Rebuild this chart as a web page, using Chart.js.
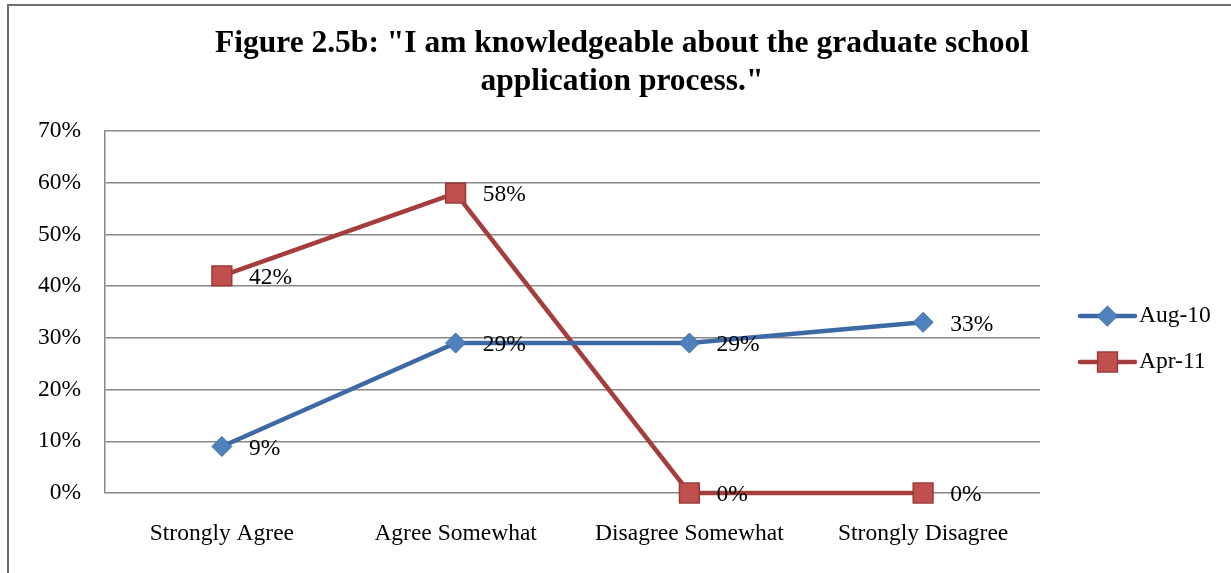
<!DOCTYPE html>
<html>
<head>
<meta charset="utf-8">
<script src="https://cdn.jsdelivr.net/npm/chart.js@4/dist/chart.umd.min.js"></script>
<style>
  html, body { margin:0; padding:0; background:#fff; overflow:hidden; }
  #wrap { position:absolute; left:0; top:0; width:1231px; height:573px; }
  #frame { position:absolute; left:7px; top:4px; width:1300px; height:700px; border-left:2px solid #707070; border-top:2px solid #707070; pointer-events:none; }
</style>
</head>
<body>
<div id="wrap">
  <canvas id="c" width="1231" height="573"></canvas>
  <div id="frame"></div>
</div>
<script>
const titleLines = ['Figure 2.5b: "I am knowledgeable about the graduate school', 'application process."'];
const categories = ['Strongly Agree', 'Agree Somewhat', 'Disagree Somewhat', 'Strongly Disagree'];
const seriesNames = ['Aug-10', 'Apr-11'];
const aug10 = [9, 29, 29, 33];
const apr11 = [42, 58, 0, 0];
const yTicks = [0, 10, 20, 30, 40, 50, 60, 70];

const FONT = '"Liberation Serif", "Times New Roman", serif';
const FS = 23.5;

const titlePlugin = {
  id: 'customTitle',
  afterDraw(chart) {
    const ctx = chart.ctx;
    ctx.save();
    ctx.fillStyle = '#000';
    ctx.font = 'bold 31.5px ' + FONT;
    ctx.textAlign = 'center';
    ctx.textBaseline = 'middle';
    titleLines.forEach((t, i) => ctx.fillText(t, 622, 44 + i * 38));
    ctx.restore();
  }
};

const labelPlugin = {
  id: 'valueLabels',
  afterDatasetsDraw(chart) {
    const ctx = chart.ctx;
    ctx.save();
    ctx.fillStyle = '#000';
    ctx.font = FS + 'px ' + FONT;
    ctx.textAlign = 'left';
    ctx.textBaseline = 'middle';
    chart.data.datasets.forEach((ds, di) => {
      const meta = chart.getDatasetMeta(di);
      meta.data.forEach((pt, i) => {
        ctx.fillText(ds.data[i] + '%', pt.x + 27, pt.y + 2);
      });
    });
    ctx.restore();
  }
};

const legendPlugin = {
  id: 'customLegend',
  afterDraw(chart) {
    const ctx = chart.ctx;
    const ca = chart.chartArea;
    ctx.save();
    chart.data.datasets.forEach((ds, i) => {
      const y = ca.top + 185 + i * 46;
      const x0 = ca.right + 40, x1 = ca.right + 95, xm = (x0 + x1) / 2;
      ctx.strokeStyle = ds.borderColor;
      ctx.lineWidth = ds.borderWidth;
      ctx.lineCap = 'round';
      ctx.beginPath(); ctx.moveTo(x0, y); ctx.lineTo(x1, y); ctx.stroke();
      ctx.fillStyle = ds.pointBackgroundColor;
      ctx.strokeStyle = ds.pointBorderColor;
      ctx.lineWidth = ds.pointBorderWidth;
      ctx.beginPath();
      if (ds.pointStyle === 'rectRot') {
        const r = ds.pointRadius;
        ctx.moveTo(xm - r, y); ctx.lineTo(xm, y - r); ctx.lineTo(xm + r, y); ctx.lineTo(xm, y + r); ctx.closePath();
      } else {
        const s = ds.pointRadius * Math.SQRT1_2;
        ctx.rect(xm - s, y - s, 2 * s, 2 * s);
      }
      ctx.fill(); ctx.stroke();
      ctx.fillStyle = '#000';
      ctx.font = FS + 'px ' + FONT;
      ctx.textAlign = 'left';
      ctx.textBaseline = 'middle';
      ctx.fillText(ds.label, x1 + 4, y);
    });
    ctx.restore();
  }
};

new Chart(document.getElementById('c'), {
  type: 'line',
  data: {
    labels: categories,
    datasets: [
      {
        label: seriesNames[0], data: aug10, clip: false,
        borderColor: '#3d69a4', borderWidth: 4.5,
        pointStyle: 'rectRot', pointRadius: 10, pointHoverRadius: 10,
        pointBackgroundColor: '#4f81bd', pointBorderColor: '#3e6ca6', pointBorderWidth: 1,
        tension: 0
      },
      {
        label: seriesNames[1], data: apr11, clip: false,
        borderColor: '#a43d3b', borderWidth: 4.5,
        pointStyle: 'rect', pointRadius: 14, pointHoverRadius: 14,
        pointBackgroundColor: '#c0504d', pointBorderColor: '#9c3a38', pointBorderWidth: 1.5,
        tension: 0
      }
    ]
  },
  options: {
    responsive: false,
    animation: false,
    events: [],
    layout: { padding: { top: 131, right: 191, left: 0, bottom: 0 } },
    plugins: { legend: { display: false }, title: { display: false }, tooltip: { enabled: false } },
    scales: {
      x: {
        offset: true,
        grid: { display: false, drawTicks: false },
        border: { display: false },
        ticks: { color: '#000', font: { family: FONT, size: FS }, padding: 27, maxRotation: 0 },
        afterFit(s) { s.height = 80; }
      },
      y: {
        min: 0, max: 70,
        afterBuildTicks(s) { s.ticks = yTicks.map(v => ({ value: v })); },
        grid: { color: '#878787', lineWidth: 1.5, drawTicks: false },
        border: { display: true, color: '#878787', width: 1.5 },
        ticks: { color: '#000', font: { family: FONT, size: FS }, padding: 24, callback: v => v + '%' },
        afterFit(s) { s.width = 105; }
      }
    }
  },
  plugins: [titlePlugin, labelPlugin, legendPlugin]
});
</script>
</body>
</html>
